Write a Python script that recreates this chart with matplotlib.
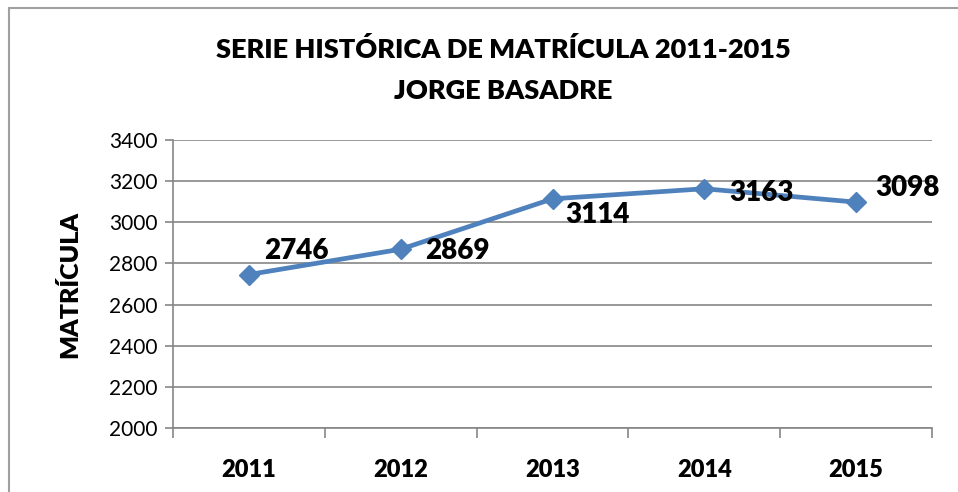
import matplotlib.pyplot as plt
from matplotlib.patches import Rectangle

years = ["2011", "2012", "2013", "2014", "2015"]
matricula = [2746, 2869, 3114, 3163, 3098]
# label offsets (pixels) as placed in the original chart
label_offsets = [(47, 24), (57, -2), (45, -16), (57, -4), (51, 14)]

font = "Lato"
grid_col = "#868686"
line_col = "#4F81BD"

fig = plt.figure(figsize=(9.58, 4.92), dpi=100)
ax = fig.add_axes([173 / 958, 1 - 428 / 492, 759 / 958, 288 / 492])

x = list(range(len(years)))
ax.plot(x, matricula, color=line_col, lw=3.4, marker="D", markersize=10,
        markerfacecolor=line_col, markeredgecolor=line_col, zorder=3)

for xi, v, off in zip(x, matricula, label_offsets):
    ax.annotate(str(v), (xi, v), xytext=off, textcoords="offset pixels",
                ha="center", va="center", fontsize=20, fontweight="heavy",
                family=font, zorder=4)

ax.set_xlim(-0.5, len(years) - 0.5)
ax.set_ylim(2000, 3400)
ax.set_yticks(range(2000, 3401, 200))
ax.set_xticks(x)
ax.set_xticklabels(years, fontsize=17, fontweight="heavy", family=font)
ax.set_xticks([i - 0.5 for i in range(len(years) + 1)], minor=True)
ax.tick_params(axis="x", which="major", length=0, pad=22)
ax.tick_params(axis="x", which="minor", length=7, width=1.2, color=grid_col)
ax.tick_params(axis="y", length=6, width=1.2, color=grid_col, labelsize=15, pad=5)
for lab in ax.get_yticklabels():
    lab.set_family(font)

ax.grid(axis="y", color=grid_col, lw=1.2)
ax.set_axisbelow(True)
for s in ["top", "right"]:
    ax.spines[s].set_visible(False)
for s in ["left", "bottom"]:
    ax.spines[s].set_color(grid_col)
    ax.spines[s].set_linewidth(1.2)

ax.set_ylabel("MATRÍCULA", fontsize=18, fontweight="heavy", family=font, labelpad=20)

fig.text(503 / 958, 1 - 50 / 492, "SERIE HISTÓRICA DE MATRÍCULA 2011-2015",
         ha="center", va="center", fontsize=19.5, fontweight="heavy", family=font)
fig.text(503 / 958, 1 - 91 / 492, "JORGE BASADRE",
         ha="center", va="center", fontsize=19.5, fontweight="heavy", family=font)

fig.patches.append(Rectangle((9 / 958, -0.05), 1.0, 1 - 8 / 492 + 0.05,
                             transform=fig.transFigure, fill=False,
                             edgecolor="#A0A0A0", lw=1.5))

fig.savefig("out.png", dpi=100)
